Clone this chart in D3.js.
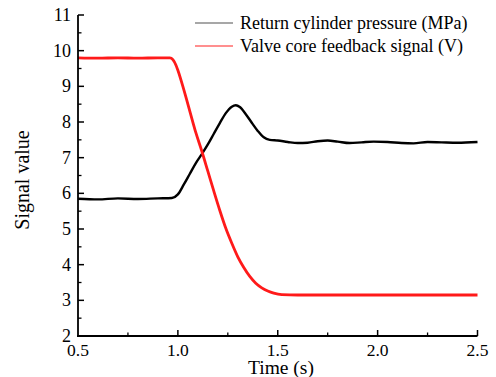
<!DOCTYPE html>
<html>
<head>
<meta charset="utf-8">
<script src="https://cdn.jsdelivr.net/npm/d3@7"></script>
<style>
  body { margin: 0; background: #fff; }
</style>
</head>
<body>
<svg id="chart" width="496" height="377"></svg>
<script>
// values
const pressureT = [0.5, 0.6, 0.7, 0.8, 0.9, 0.97, 1.0, 1.03, 1.06, 1.09, 1.12, 1.15, 1.18, 1.21, 1.24, 1.27, 1.29, 1.31, 1.34, 1.37, 1.40, 1.43, 1.46, 1.5, 1.55, 1.6, 1.65, 1.7, 1.75, 1.8, 1.86, 1.92, 1.98, 2.05, 2.12, 2.18, 2.25, 2.32, 2.4, 2.5];
const pressureV = [5.85, 5.83, 5.86, 5.84, 5.86, 5.87, 5.97, 6.25, 6.55, 6.85, 7.1, 7.37, 7.67, 7.97, 8.25, 8.43, 8.47, 8.42, 8.22, 7.98, 7.75, 7.57, 7.5, 7.48, 7.44, 7.41, 7.42, 7.46, 7.48, 7.45, 7.41, 7.43, 7.45, 7.44, 7.41, 7.4, 7.44, 7.43, 7.42, 7.44];

const valveT = [0.5, 0.6, 0.7, 0.8, 0.9, 0.96, 0.975, 0.99, 1.0, 1.03, 1.06, 1.09, 1.12, 1.15, 1.18, 1.21, 1.24, 1.27, 1.30, 1.33, 1.36, 1.39, 1.42, 1.45, 1.48, 1.52, 1.6, 1.8, 2.0, 2.2, 2.4, 2.5];
const valveV = [9.8, 9.79, 9.8, 9.79, 9.8, 9.8, 9.75, 9.6, 9.45, 8.9, 8.3, 7.7, 7.18, 6.62, 6.06, 5.52, 5.02, 4.6, 4.22, 3.92, 3.67, 3.48, 3.35, 3.26, 3.2, 3.16, 3.15, 3.15, 3.15, 3.15, 3.15, 3.15];

const xTicks = [0.5, 1.0, 1.5, 2.0, 2.5];
const yTicks = [2, 3, 4, 5, 6, 7, 8, 9, 10, 11];
const seriesNames = ["Return cylinder pressure (MPa)", "Valve core feedback signal (V)"];

const serif = "'Liberation Serif', 'Times New Roman', Times, 'DejaVu Serif', serif";

const svg = d3.select("#chart").attr("font-family", serif);
const x = d3.scaleLinear().domain([0.5, 2.5]).range([78, 477.5]);
const y = d3.scaleLinear().domain([2, 11]).range([336, 15]);

// data lines
const line = d3.line().x(d => x(d[0])).y(d => y(d[1])).curve(d3.curveMonotoneX);
const series = [
  {pts: d3.zip(pressureT, pressureV), color: "#000", width: 2.4},
  {pts: d3.zip(valveT, valveV), color: "#ff1a1a", width: 2.8}
];
svg.selectAll("path.series").data(series).join("path")
  .attr("class", "series")
  .attr("fill", "none")
  .attr("stroke", d => d.color)
  .attr("stroke-width", d => d.width)
  .attr("stroke-linejoin", "round")
  .attr("d", d => line(d.pts));

// axes, ticks pointing inward
const axes = svg.append("g");
axes.append("line").attr("x1", 78).attr("x2", 78).attr("y1", y(11)).attr("y2", y(2))
  .attr("stroke", "#000").attr("stroke-width", 1.8);
axes.append("line").attr("x1", 77).attr("x2", x(2.5)).attr("y1", 336).attr("y2", 336)
  .attr("stroke", "#000").attr("stroke-width", 1.8);

const yMinor = d3.range(2.5, 11, 1);
axes.selectAll("line.ymaj").data(yTicks.slice(1)).join("line")
  .attr("x1", 78).attr("x2", 84).attr("y1", d => y(d)).attr("y2", d => y(d))
  .attr("stroke", "#000").attr("stroke-width", 1.5);
axes.selectAll("line.ymin").data(yMinor).join("line")
  .attr("x1", 78).attr("x2", 81.5).attr("y1", d => y(d)).attr("y2", d => y(d))
  .attr("stroke", "#000").attr("stroke-width", 1.3);

const xMinor = d3.range(0.75, 2.5, 0.5);
axes.selectAll("line.xmaj").data(xTicks.slice(1)).join("line")
  .attr("x1", d => x(d)).attr("x2", d => x(d)).attr("y1", 336).attr("y2", 330)
  .attr("stroke", "#000").attr("stroke-width", 1.5);
axes.selectAll("line.xmin").data(xMinor).join("line")
  .attr("x1", d => x(d)).attr("x2", d => x(d)).attr("y1", 336).attr("y2", 332.5)
  .attr("stroke", "#000").attr("stroke-width", 1.3);

axes.selectAll("text.ylab").data(yTicks).join("text")
  .attr("x", 71).attr("y", d => y(d)).attr("dy", "0.33em")
  .attr("text-anchor", "end").attr("font-size", 18)
  .text(d => d);
axes.selectAll("text.xlab").data(xTicks).join("text")
  .attr("x", d => x(d)).attr("y", 356)
  .attr("text-anchor", "middle").attr("font-size", 17.5)
  .text(d => d.toFixed(1));

svg.append("text")
  .attr("x", 281).attr("y", 374).attr("text-anchor", "middle")
  .attr("font-size", 19.5).text("Time (s)");
svg.append("text")
  .attr("transform", "translate(29,180) rotate(-90)")
  .attr("text-anchor", "middle").attr("font-size", 20).text("Signal value");

// legend
const legendColors = ["#8a8a8a", "#ff6a6a"];
const lg = svg.append("g").selectAll("g").data(seriesNames).join("g")
  .attr("transform", (d, i) => `translate(195,${23 + i * 23})`);
lg.append("line").attr("x1", 0).attr("x2", 38).attr("y1", 0).attr("y2", 0)
  .attr("stroke", (d, i) => legendColors[i]).attr("stroke-width", 1.4);
lg.append("text").attr("x", 45).attr("y", 6).attr("font-size", 18).text(d => d);
</script>
</body>
</html>
